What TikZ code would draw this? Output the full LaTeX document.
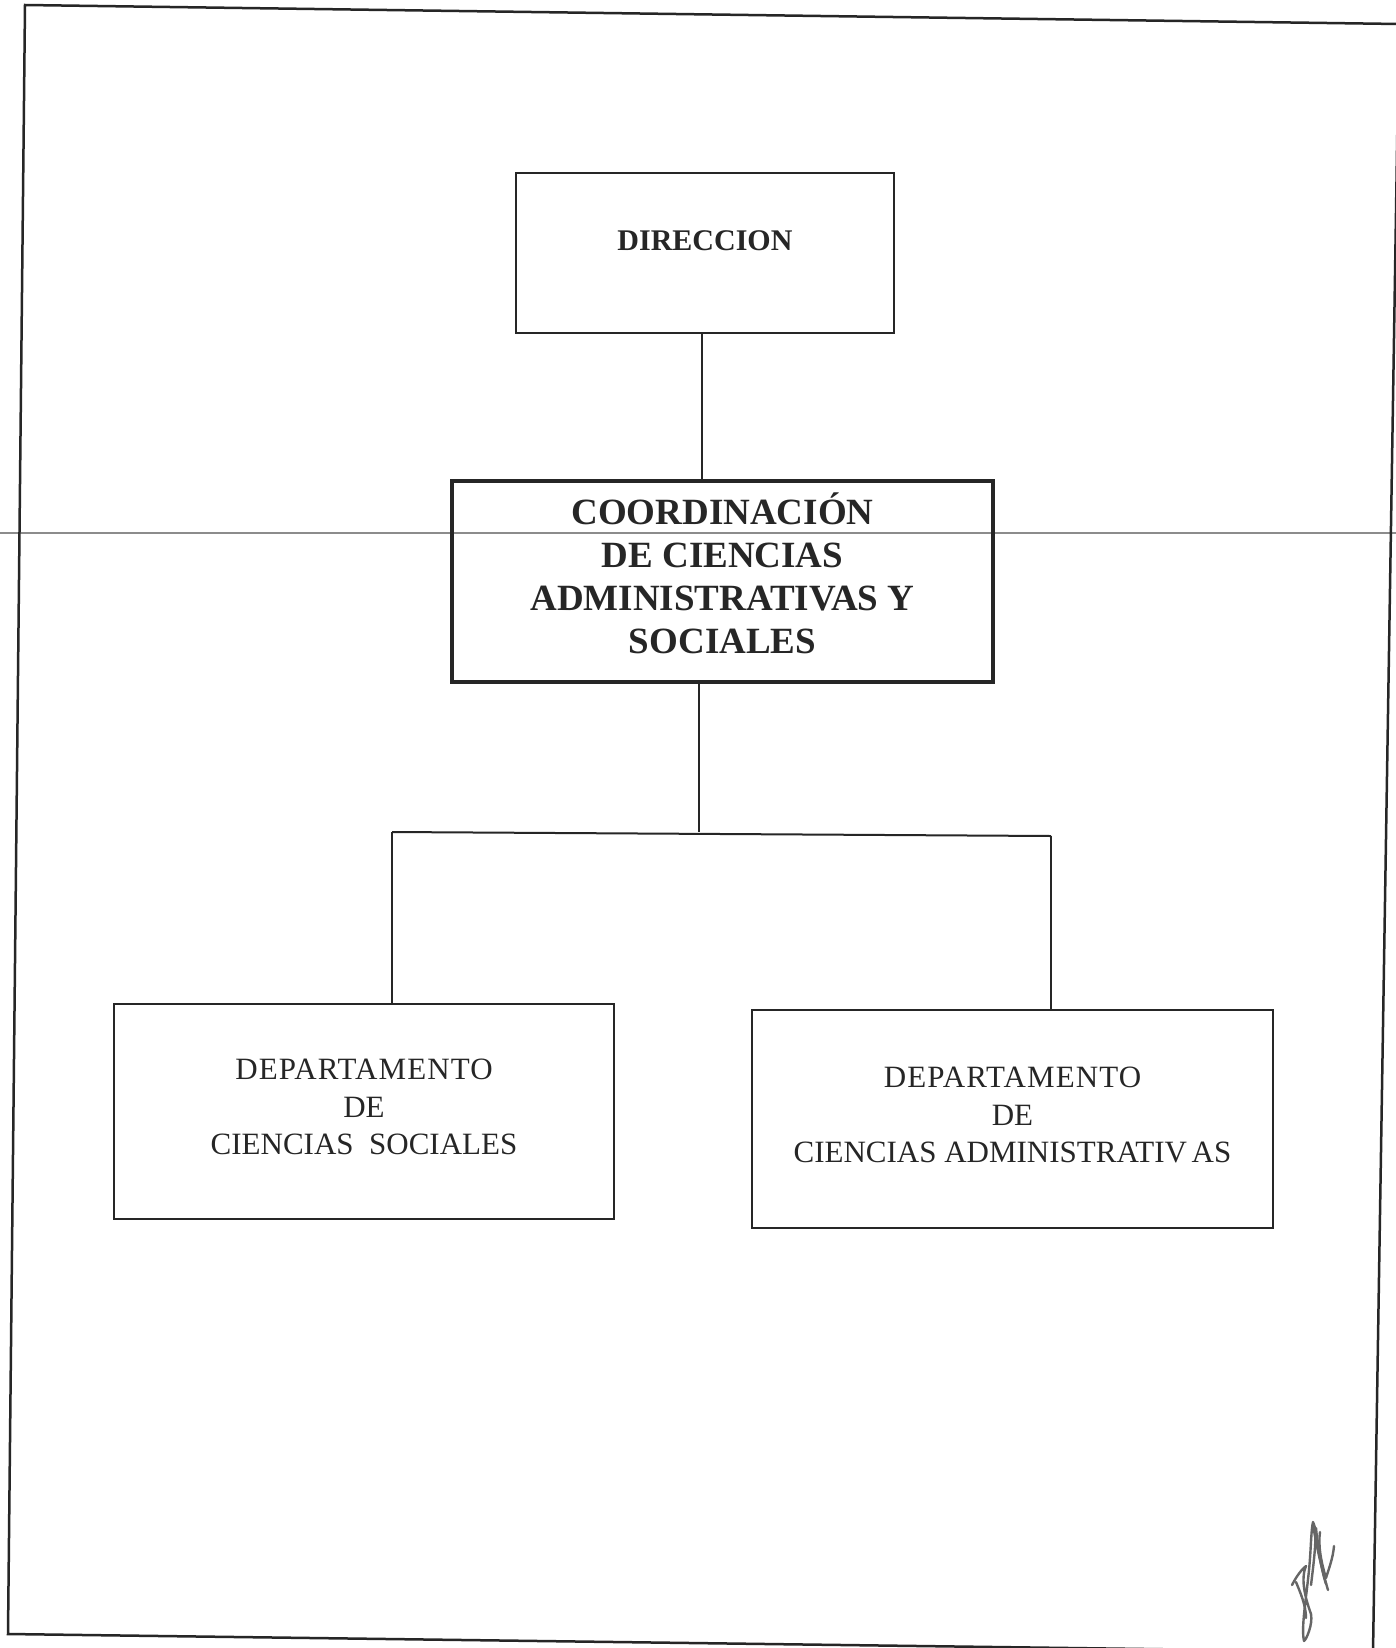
\documentclass[tikz,border=0pt]{standalone}
\usepackage{fontspec}
\setmainfont{Liberation Serif}
\begin{document}
\begin{tikzpicture}[x=1pt,y=-1pt,
  orgbox/.style={draw=black!85,line width=2pt,rectangle,inner sep=0pt},
  boxtext/.style={inner sep=0pt,align=center,text=black!85},
  conn/.style={draw=black!85,line width=2pt}]
\useasboundingbox (0,0) rectangle (1396,1648);
\clip (0,0) rectangle (1396,1648);
\fill[white] (0,0) rectangle (1396,1648);
% scan line
\draw[black!45,line width=1.4pt] (0,533) -- (1396,533);
% outer frame
\draw[black!85,line width=2.5pt] (25,5) -- (1399,24) -- (1373,1652) -- (8,1634) -- cycle;
% boxes
\node[orgbox,minimum width=378pt,minimum height=160pt] (direc) at (705,253) {};
\node[boxtext,font=\fontsize{30}{36}\selectfont\bfseries] (direct) at (705,241) {DIRECCION};
\node[orgbox,line width=3.5pt,minimum width=541pt,minimum height=201pt] (coord) at (722.5,581.5) {};
\node[boxtext,font=\fontsize{37}{43}\selectfont\bfseries] (coordt) at (722.5,573)
  {COORDINACIÓN\\DE CIENCIAS\\ADMINISTRATIVAS Y\\SOCIALES};
\node[orgbox,minimum width=500pt,minimum height=215pt] (left) at (364,1111.5) {};
\node[boxtext,font=\fontsize{31}{37.5}\selectfont] (leftt) at (364,1107.3)
  {{\addfontfeature{LetterSpace=3.5}DEPARTAMENTO}\\DE\\CIENCIAS\hspace{0.5em}SOCIALES};
\node[orgbox,minimum width=521pt,minimum height=218pt] (right) at (1012.5,1119) {};
\node[boxtext,font=\fontsize{31}{37.5}\selectfont] (rightt) at (1012.5,1115.3)
  {{\addfontfeature{LetterSpace=3.5}DEPARTAMENTO}\\DE\\CIENCIAS ADMINISTRATIV\kern0.15em AS};
% connectors
\coordinate (a) at (702,0);
\coordinate (j) at (699,834);
\coordinate (jl) at (392,832);
\coordinate (jr) at (1051,836);
\draw[conn] (direc.south -| a) -- (coord.north -| a);
\draw[conn] (coord.south -| j) -- (j |- jl);
\draw[conn] (jl) -- (jr);
\draw[conn] (jl) -- (left.north -| jl);
\draw[conn] (jr) -- (right.north -| jr);
% signature
\begin{scope}[draw=black!60,line width=2.4pt,line cap=round,line join=round]
\draw (1292,1585) .. controls (1297,1575) and (1303,1568) .. (1306,1566)
      .. controls (1300,1580) and (1306,1600) .. (1311,1614)
      .. controls (1313,1625) and (1306,1640) .. (1304,1641)
      .. controls (1301,1628) and (1306,1600) .. (1309,1570)
      .. controls (1311,1550) and (1311,1530) .. (1313,1522)
      .. controls (1318,1530) and (1314,1560) .. (1311,1585);
\draw (1313,1524) .. controls (1316,1545) and (1322,1570) .. (1328,1590);
\draw (1316,1528) .. controls (1318,1550) and (1322,1572) .. (1326,1584);
\draw (1334,1546) .. controls (1333,1558) and (1329,1568) .. (1326,1578)
      .. controls (1321,1562) and (1318,1545) .. (1320,1532);
\draw (1296,1582) .. controls (1300,1592) and (1306,1605) .. (1306,1618);
\end{scope}
\end{tikzpicture}
\end{document}
